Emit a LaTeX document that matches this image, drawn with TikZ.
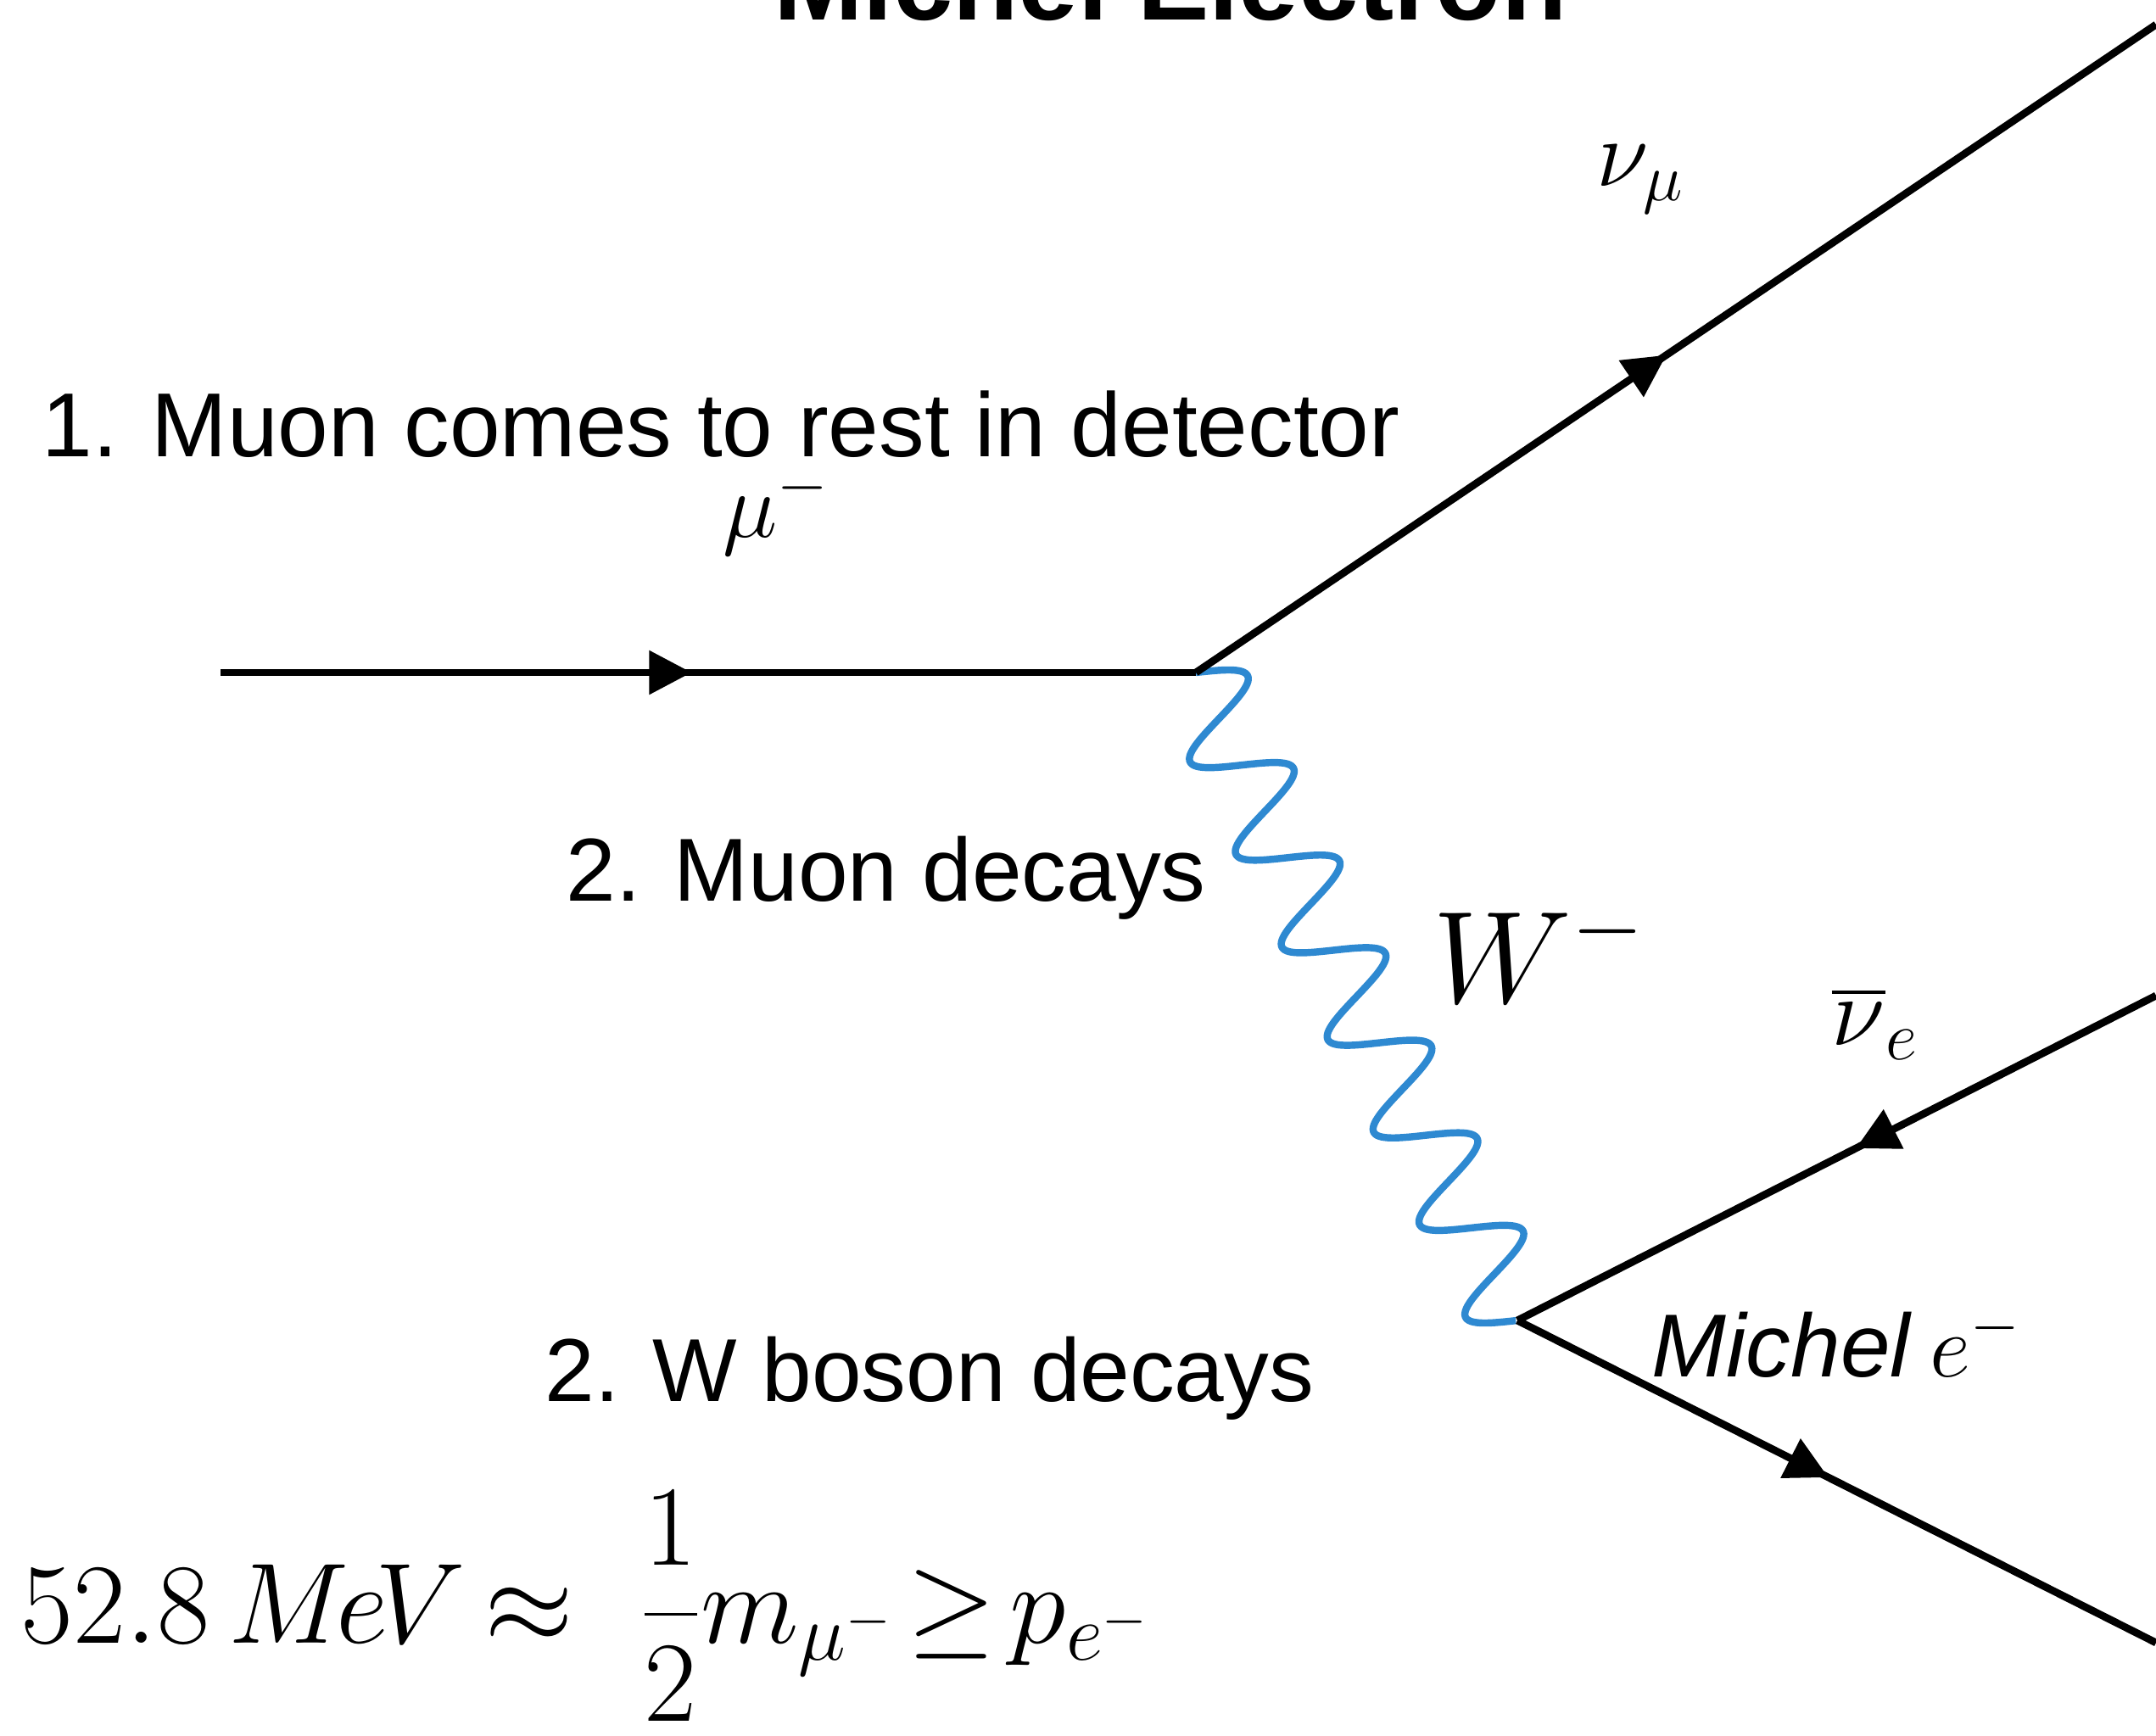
\RequirePackage{fix-cm}
\documentclass[tikz,border=0pt]{standalone}
\usepackage{amsmath}
\usepackage{fontspec}
\newfontfamily\arial{Liberation Sans}
\usetikzlibrary{decorations.markings,arrows.meta}
\definecolor{wblue}{RGB}{46,137,209}
\tikzset{
  fermion/.style={line width=2.5pt, black,
    postaction={decorate, decoration={markings,
      mark=at position #1 with {\arrow{Stealth[length=0.5cm,width=0.5cm,inset=0pt]}}}}},
  wave/.style={wblue, line width=2.4pt, line join=round},
  sanslabel/.style={inner sep=0pt, font=\arial\fontsize{30}{36}\selectfont},
  mathlabel/.style={inner sep=0pt},
  eqpart/.style={inner sep=0pt, font=\fontsize{38.4}{46}\selectfont},
}
\begin{document}
\begin{tikzpicture}
\useasboundingbox (0,0) rectangle (25.42,-20.47);
% vertices and free ends
\coordinate (mstart) at (2.60,-7.93);
\coordinate (v1) at (14.10,-7.93);
\coordinate (v2) at (17.89,-15.57);
\coordinate (numu) at (25.42,-0.29);
\coordinate (nue) at (25.42,-11.74);
\coordinate (eout) at (25.42,-19.37);
% W boson: seven full waves from v1 to v2
\begin{scope}[shift={(v1)}, rotate=-63.62]
  \draw[wave] plot[domain=0:8.5284, samples=420, smooth] (\x, {0.53*sin(\x/8.5284*7*360)});
\end{scope}
% fermion lines
\draw[fermion=0.483] (mstart) -- (v1);
\draw[fermion=0.49] (v1) -- (numu);
\draw[fermion=0.47] (nue) -- (v2);
\draw[fermion=0.487] (v2) -- (eout);
% title
\node[inner sep=0pt, anchor=base, font=\arial\bfseries\fontsize{36}{43}\selectfont] (title) at (13.80,-0.24) {Michel Electron};
% step texts
\node[sanslabel, anchor=base west, font=\arial\fontsize{30.5}{36}\selectfont] (step1) at (0.49,-5.39) {1. Muon comes to rest in detector};
\node[sanslabel, anchor=base west] (step2) at (6.67,-10.62) {2. Muon decays};
\node[sanslabel, anchor=base west] (step3) at (6.42,-16.52) {2. W boson decays};
% particle labels
\node[mathlabel, anchor=base west, font=\fontsize{31}{37}\selectfont] (lmu) at (8.52,-6.34) {$\mu^-$};
\node[mathlabel, anchor=base west, font=\fontsize{32}{38}\selectfont] (lnumu) at (18.82,-2.20) {$\nu_\mu$};
\node[mathlabel, anchor=base west, font=\fontsize{44}{52}\selectfont] (lw) at (16.89,-11.82) {$W^-$};
\node[mathlabel, anchor=base west, font=\fontsize{33}{40}\selectfont] (lnue) at (21.59,-12.32) {$\overline{\nu}_e$};
\node[mathlabel, anchor=base west, font=\arial\fontsize{30}{36}\selectfont] (lmichel) at (19.47,-16.23) {\textit{Michel}\hspace{6pt}$e^-$};
% equation
\node[eqpart, anchor=base west] (eqa) at (0.24,-19.37) {$52.8\,M\mkern-2mu e\mkern-2mu V$};
\node[eqpart, anchor=base] (eqb) at (6.24,-19.37) {$\approx$};
\node[eqpart, anchor=base west] (eqc) at (7.55,-19.37) {$\dfrac{1}{2}m_{\mu^-}$};
\node[eqpart, anchor=base] (eqd) at (11.22,-19.37) {$\geq$};
\node[eqpart, anchor=base west] (eqe) at (11.90,-19.37) {$p_{e^-}$};
\end{tikzpicture}
\end{document}
